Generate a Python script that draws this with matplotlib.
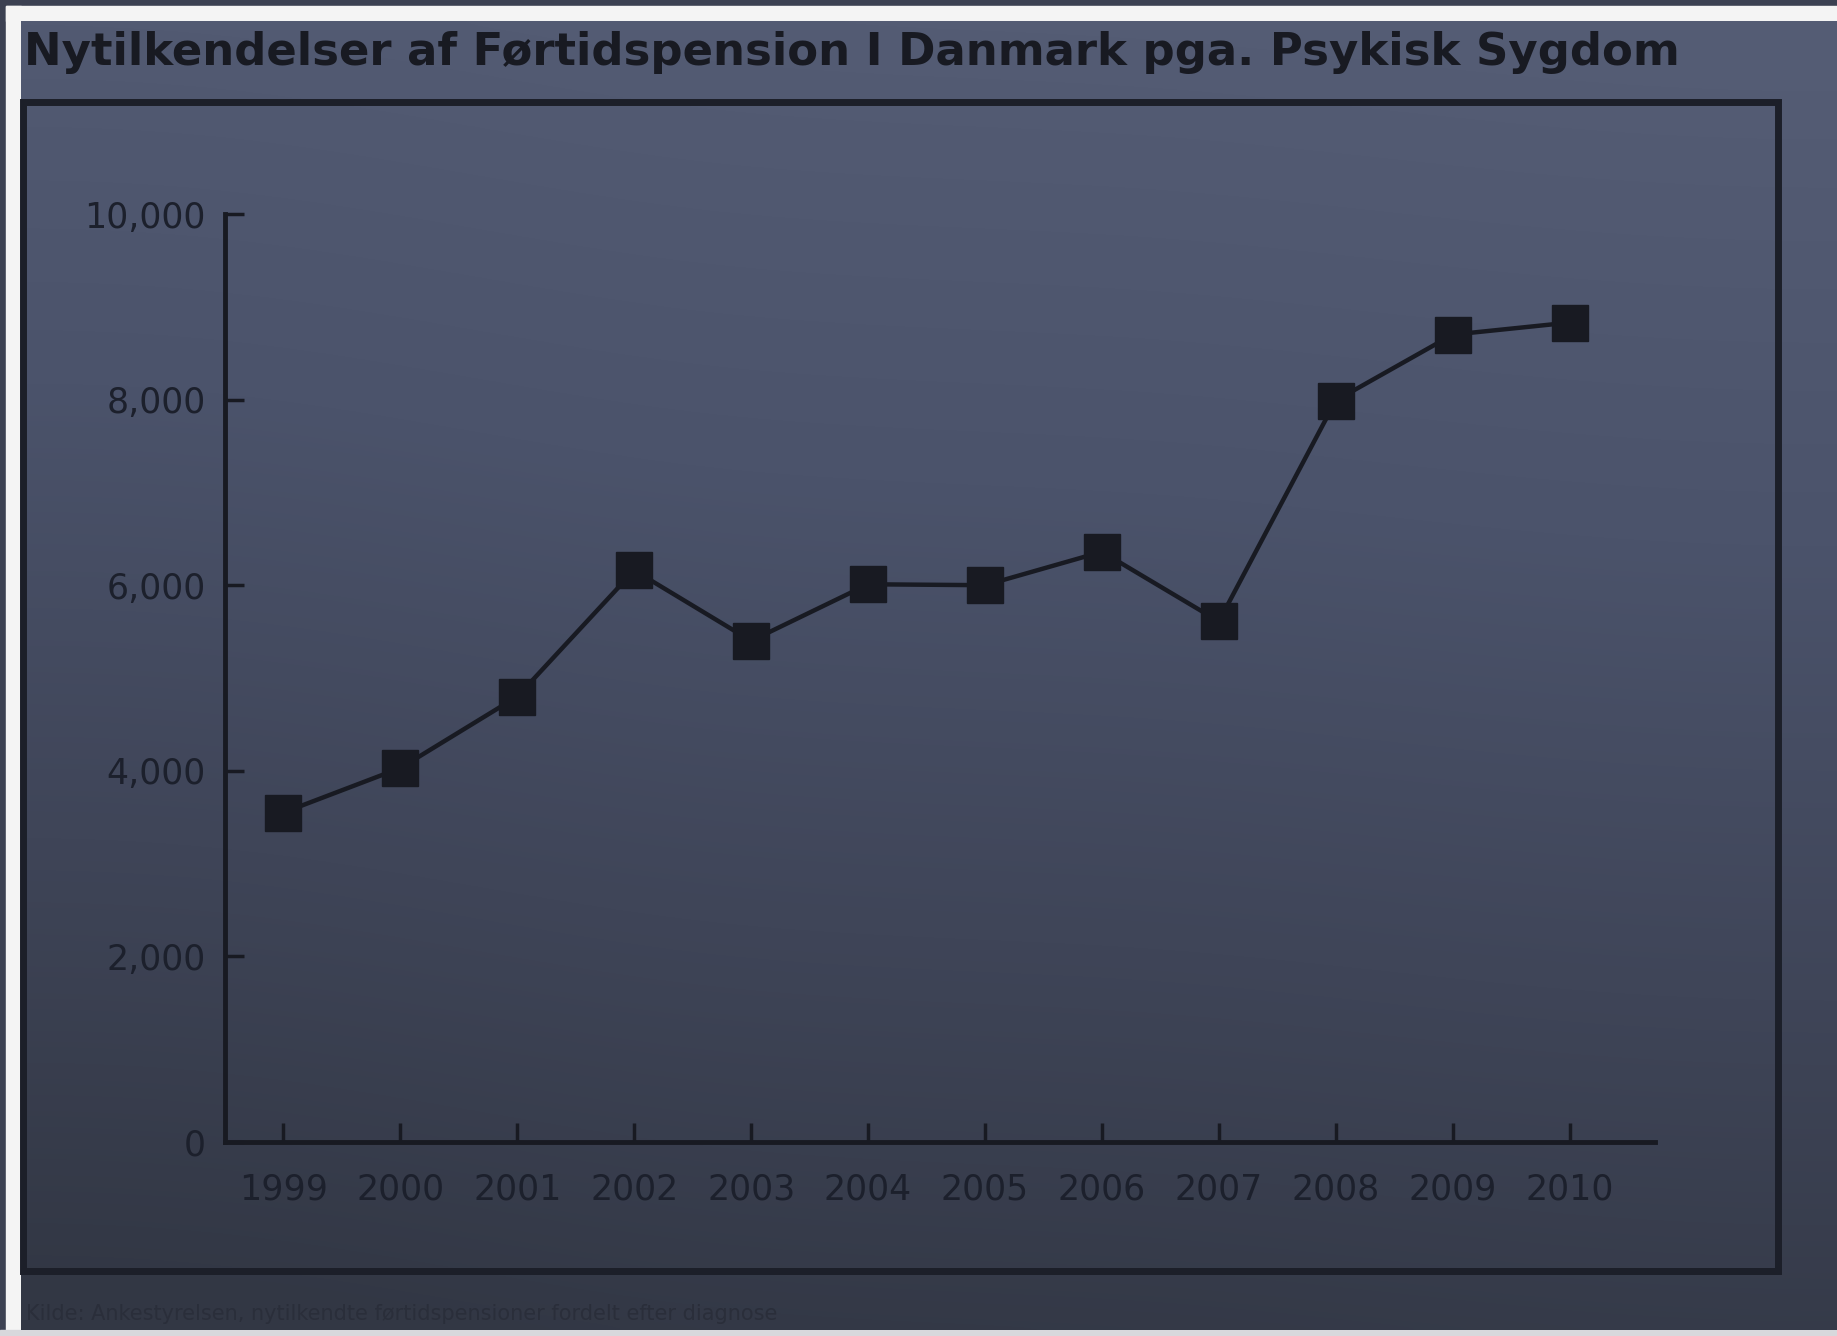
import numpy as np
import matplotlib.pyplot as plt
from matplotlib.patches import Rectangle
from matplotlib.colors import LinearSegmentedColormap

# Nytilkendelser af førtidspension pga. psykisk sygdom
years = [1999, 2000, 2001, 2002, 2003, 2004, 2005, 2006, 2007, 2008, 2009, 2010]
cases = [3550, 4030, 4800, 6160, 5400, 6010, 6000, 6360, 5610, 7990, 8700, 8830]
yticks = [0, 2000, 4000, 6000, 8000, 10000]
title = 'Nytilkendelser af Førtidspension I Danmark pga. Psykisk Sygdom'

ink = '#181a22'
W, H = 1837, 1336

fig = plt.figure(figsize=(W / 100, H / 100), dpi=100)
fig.patch.set_facecolor('#3c4152')

# baggrund i pixelkoordinater
bg = fig.add_axes([0, 0, 1, 1])
bg.set_xlim(0, W)
bg.set_ylim(H, 0)
bg.axis('off')

bg.add_patch(Rectangle((6, 6), W, 15, color='#f4f4f4', zorder=1))
bg.add_patch(Rectangle((6, 6), 15, H, color='#f4f4f4', zorder=1))
bg.add_patch(Rectangle((0, 1330), W, 6, color='#d8d8dc', zorder=1))

cmap = LinearSegmentedColormap.from_list('tavle', ['#545c74', '#4b536b', '#3f4558', '#323744'])
grad = np.linspace(0, 1, 256).reshape(-1, 1) * np.ones((1, 4))
grad[:, 0] += 0.08
grad[:, 3] -= 0.05
bg.imshow(grad, cmap=cmap, aspect='auto', extent=(21, W, 1330, 21),
          interpolation='bicubic', vmin=0, vmax=1.05, zorder=2)

bg.add_patch(Rectangle((23, 102), 1755, 1169, fill=False, edgecolor='#1c1f29',
                       linewidth=5, zorder=3))

bg.text(24, 52, title, fontsize=32.4, fontweight='bold', color=ink,
        va='center', ha='left', zorder=4)
bg.text(26, 1314, 'Kilde: Ankestyrelsen, nytilkendte førtidspensioner fordelt efter diagnose',
        fontsize=15, color='#2a2e3a', va='center', ha='left', zorder=4)

# selve grafen
ax = fig.add_axes([225 / W, 1 - 1142 / H, (1655 - 225) / W, (1142 - 214) / H])
ax.set_facecolor('none')
ax.plot(years, cases, color=ink, linewidth=3.2, marker='s', markersize=26,
        markerfacecolor=ink, markeredgecolor=ink, zorder=5)

ax.set_xlim(1998.5, 2010.73)
ax.set_ylim(0, 10000)
ax.set_xticks(years)
ax.set_xticklabels([str(y) for y in years])
ax.set_yticks(yticks)
ax.set_yticklabels([f'{v:,}' for v in yticks])

for s in ['top', 'right']:
    ax.spines[s].set_visible(False)
for s in ['left', 'bottom']:
    ax.spines[s].set_color(ink)
    ax.spines[s].set_linewidth(3.5)

ax.tick_params(axis='both', direction='in', length=14, width=2.5, color=ink,
               labelcolor='#1c202c', labelsize=25)
ax.tick_params(axis='x', pad=22)
ax.tick_params(axis='y', pad=14)

fig.savefig('out.png', dpi=100, facecolor=fig.get_facecolor())
